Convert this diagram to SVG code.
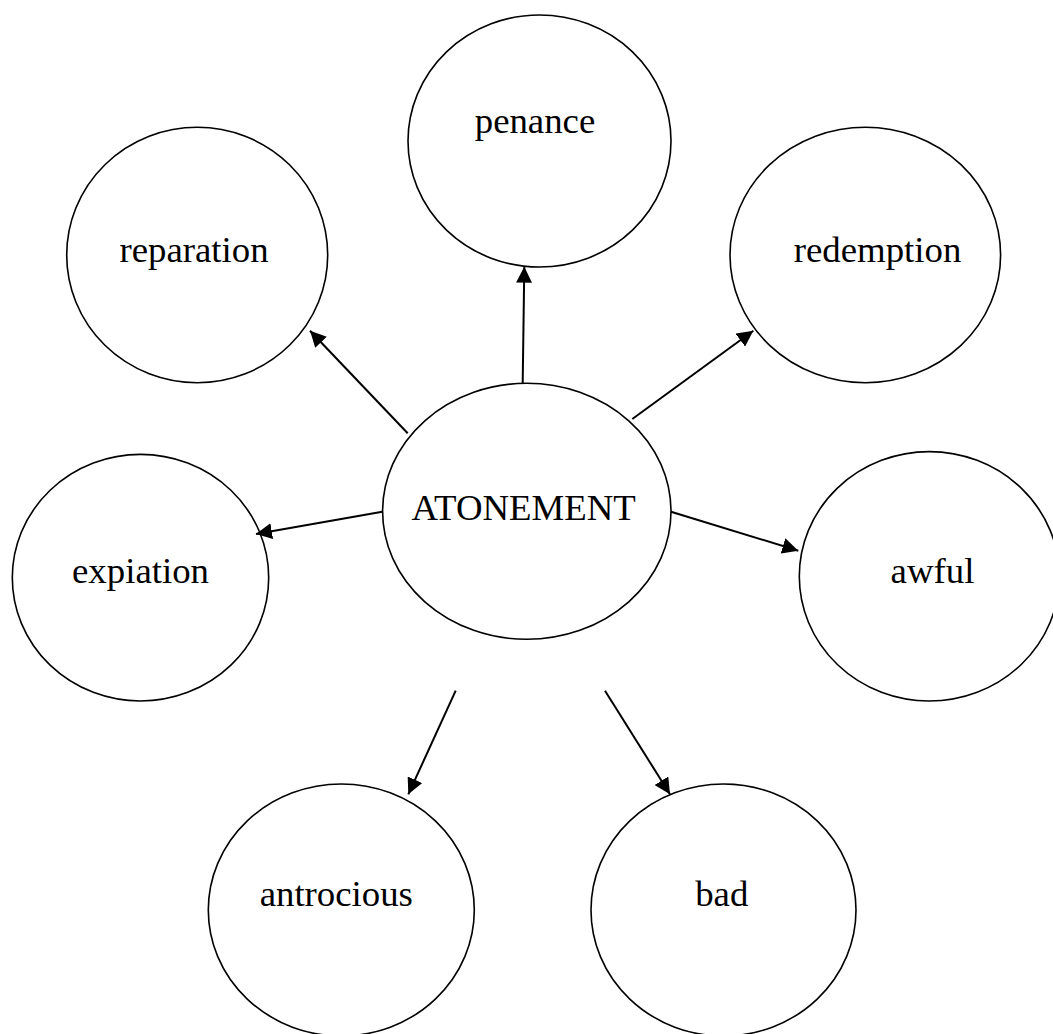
<svg xmlns="http://www.w3.org/2000/svg" width="1053" height="1034" viewBox="0 0 1053 1034">
<style>
.n ellipse{fill:#fff;stroke:#000;stroke-width:1.6}
.n text{font-family:"Liberation Serif","Times New Roman",serif;font-size:36.8px;fill:#000;text-anchor:middle}
.c line{stroke:#000;stroke-width:2}
</style>
<defs>
<marker id="ah" markerWidth="8" markerHeight="8" refX="8" refY="4" orient="auto" markerUnits="strokeWidth">
<path d="M0,0 L8,4 L0,8 Z" fill="#000"/>
</marker>
</defs>
<rect width="1053" height="1034" fill="#fff"/>
<g class="n" id="penance"><ellipse cx="539.5" cy="141" rx="131.5" ry="126"/><text x="535" y="133">penance</text></g>
<g class="n" id="reparation"><ellipse cx="197.2" cy="255" rx="130.5" ry="127.7"/><text x="194" y="262">reparation</text></g>
<g class="n" id="redemption"><ellipse cx="865.3" cy="255" rx="135.3" ry="127.7"/><text x="877.5" y="262">redemption</text></g>
<g class="n" id="expiation"><ellipse cx="140.5" cy="577.7" rx="128.2" ry="123.3"/><text x="140.5" y="583">expiation</text></g>
<g class="n" id="awful"><ellipse cx="929.3" cy="576.3" rx="130" ry="124.7"/><text x="932.5" y="583">awful</text></g>
<g class="n" id="atonement"><ellipse cx="526.8" cy="511.3" rx="144.2" ry="128"/><text x="523.7" y="520">ATONEMENT</text></g>
<g class="n" id="antrocious"><ellipse cx="341.3" cy="910" rx="133" ry="126"/><text x="336.3" y="906">antrocious</text></g>
<g class="n" id="bad"><ellipse cx="723.5" cy="910" rx="132.5" ry="126"/><text x="721.8" y="906">bad</text></g>
<g class="c" id="connectors">
<line x1="522.7" y1="383" x2="524.3" y2="266.7" marker-end="url(#ah)"/>
<line x1="407.7" y1="433.3" x2="310" y2="330.7" marker-end="url(#ah)"/>
<line x1="632.3" y1="419" x2="753.3" y2="330.7" marker-end="url(#ah)"/>
<line x1="382.3" y1="511.7" x2="256" y2="534" marker-end="url(#ah)"/>
<line x1="671" y1="511.7" x2="798.3" y2="550.7" marker-end="url(#ah)"/>
<line x1="455.7" y1="690.7" x2="408.3" y2="794.3" marker-end="url(#ah)"/>
<line x1="605" y1="690.7" x2="670" y2="794.3" marker-end="url(#ah)"/>
</g>
</svg>
